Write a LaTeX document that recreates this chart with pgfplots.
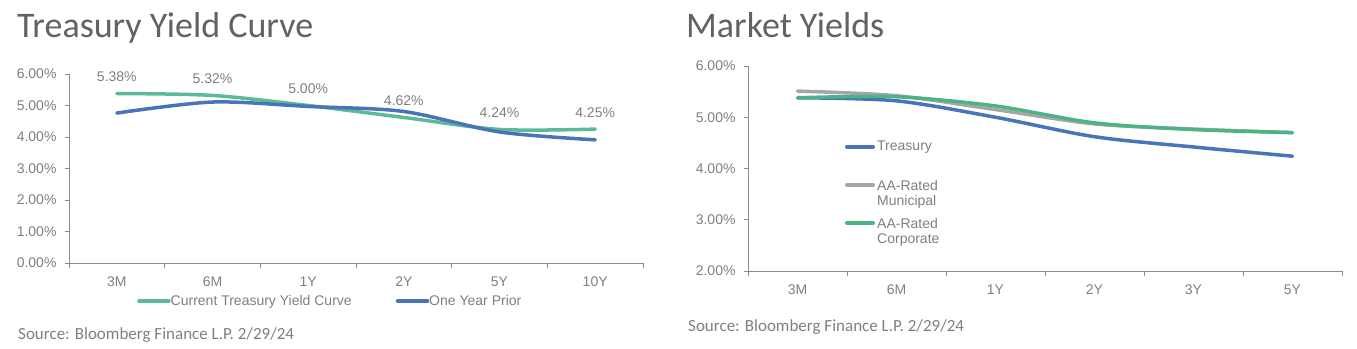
\documentclass[border=0pt]{standalone}
\usepackage{pgfplots}
\pgfplotsset{compat=1.18}
\usepackage{fontspec}
\setmainfont{Liberation Sans}
\newfontfamily\calfont{Carlito}
\definecolor{tgreen}{HTML}{5BBA9B}
\definecolor{cgreen}{HTML}{4DB385}
\definecolor{tblue}{HTML}{4A74B8}
\definecolor{mgrey}{HTML}{A6A6A6}
\definecolor{lblgray}{HTML}{7F7F7F}
\definecolor{axgray}{HTML}{8C8C8C}
\definecolor{titlegray}{HTML}{626262}
\pgfplotsset{
  ychart/.style={
    scale only axis, clip=false,
    axis x line*=bottom, axis y line*=left,
    axis line style={draw=axgray, line width=0.9bp},
    tick align=outside,
    xtick={0,...,5}, major x tick style={draw=none},
    minor xtick={-0.5,0.5,1.5,2.5,3.5,4.5,5.5},
    minor x tick style={draw=axgray, line width=0.9bp},
    minor tick length=5bp, major tick length=4bp,
    ytick style={draw=axgray, line width=0.9bp},
    xmin=-0.5, xmax=5.5,
    tick label style={font=\fontsize{14bp}{16bp}\selectfont, text=lblgray},
    yticklabel style={xshift=-5bp},
    xticklabel style={yshift=-6bp},
    every axis plot/.append style={line width=3.5bp, line cap=round, line join=round, smooth, no markers},
  }
}
\begin{document}
\begin{tikzpicture}
\path[use as bounding box] (0,0) rectangle (1357bp,349bp);
% Left chart
\node[anchor=base west, inner sep=0, text=titlegray, font=\calfont\fontsize{36bp}{42bp}\selectfont] at (17bp,311bp) {Treasury Yield Curve};
\node[anchor=west, inner sep=0, text=lblgray, font=\calfont\fontsize{17bp}{20bp}\selectfont] at (18bp,14bp) {Source: Bloomberg Finance L.P. 2/29/24};
\begin{axis}[ychart, at={(69bp,86bp)}, anchor=south west,
  width=574bp, height=189bp, ymin=0, ymax=6,
  ytick={0,...,6},
  yticklabels={0.00\%,1.00\%,2.00\%,3.00\%,4.00\%,5.00\%,6.00\%},
  xticklabels={3M,6M,1Y,2Y,5Y,10Y},
  legend columns=2,
  legend image code/.code={\draw[#1] (1.75bp,0bp) -- (28.25bp,0bp); \path (0bp,0bp) -- (30bp,0bp);},
  legend style={at={(0.1185,-0.2011)}, anchor=west, draw=none, fill=none, inner sep=0pt,
    font=\fontsize{14bp}{16bp}\selectfont, text=lblgray,
    nodes={inner sep=0pt}, cells={anchor=west},
    /tikz/every even column/.append style={column sep=44bp}},
]
\addplot[tgreen, point meta=explicit symbolic,
  nodes near coords,
  every node near coord/.append style={font=\fontsize{14bp}{16bp}\selectfont, text=lblgray, anchor=south, inner sep=0pt, yshift=10bp}]
  coordinates {(0,5.38) [5.38\%] (1,5.32) [5.32\%] (2,5.00) [5.00\%] (3,4.62) [4.62\%] (4,4.24) [4.24\%] (5,4.25) [4.25\%]};
\addlegendentry{Current Treasury Yield Curve}
\addplot[tblue] coordinates {(0,4.76) (1,5.11) (2,4.97) (3,4.81) (4,4.16) (5,3.91)};
\addlegendentry{One Year Prior}
\end{axis}
% Right chart
\node[anchor=base west, inner sep=0, text=titlegray, font=\calfont\fontsize{36bp}{42bp}\selectfont] at (686bp,311bp) {Market Yields};
\node[anchor=west, inner sep=0, text=lblgray, font=\calfont\fontsize{17bp}{20bp}\selectfont] at (688bp,22bp) {Source: Bloomberg Finance L.P. 2/29/24};
\begin{axis}[ychart, at={(748bp,78bp)}, anchor=south west,
  width=594bp, height=205bp, ymin=2, ymax=6,
  ytick={2,...,6},
  yticklabels={2.00\%,3.00\%,4.00\%,5.00\%,6.00\%},
  xticklabels={3M,6M,1Y,2Y,3Y,5Y},
]
\addplot[tblue] coordinates {(0,5.38) (1,5.32) (2,5.00) (3,4.62) (4,4.42) (5,4.24)};
\addplot[mgrey] coordinates {(0,5.51) (1,5.42) (2,5.15) (3,4.87) (4,4.77) (5,4.70)};
\addplot[cgreen] coordinates {(0,5.38) (1,5.40) (2,5.22) (3,4.89) (4,4.76) (5,4.70)};
\end{axis}
% Right legend
\begin{scope}[line width=3.5bp, line cap=round]
\draw[tblue] (846.75bp,202bp) -- (873.25bp,202bp);
\draw[mgrey] (846.75bp,164bp) -- (873.25bp,164bp);
\draw[cgreen] (846.75bp,126bp) -- (873.25bp,126bp);
\end{scope}
\begin{scope}[every node/.style={anchor=west, inner sep=0pt, text=lblgray, font=\fontsize{14bp}{16bp}\selectfont}]
\node at (877bp,202bp) {Treasury};
\node at (877bp,164bp) {AA-Rated};
\node at (877bp,147bp) {Municipal};
\node at (877bp,126bp) {AA-Rated};
\node at (877bp,109bp) {Corporate};
\end{scope}
\end{tikzpicture}
\end{document}
